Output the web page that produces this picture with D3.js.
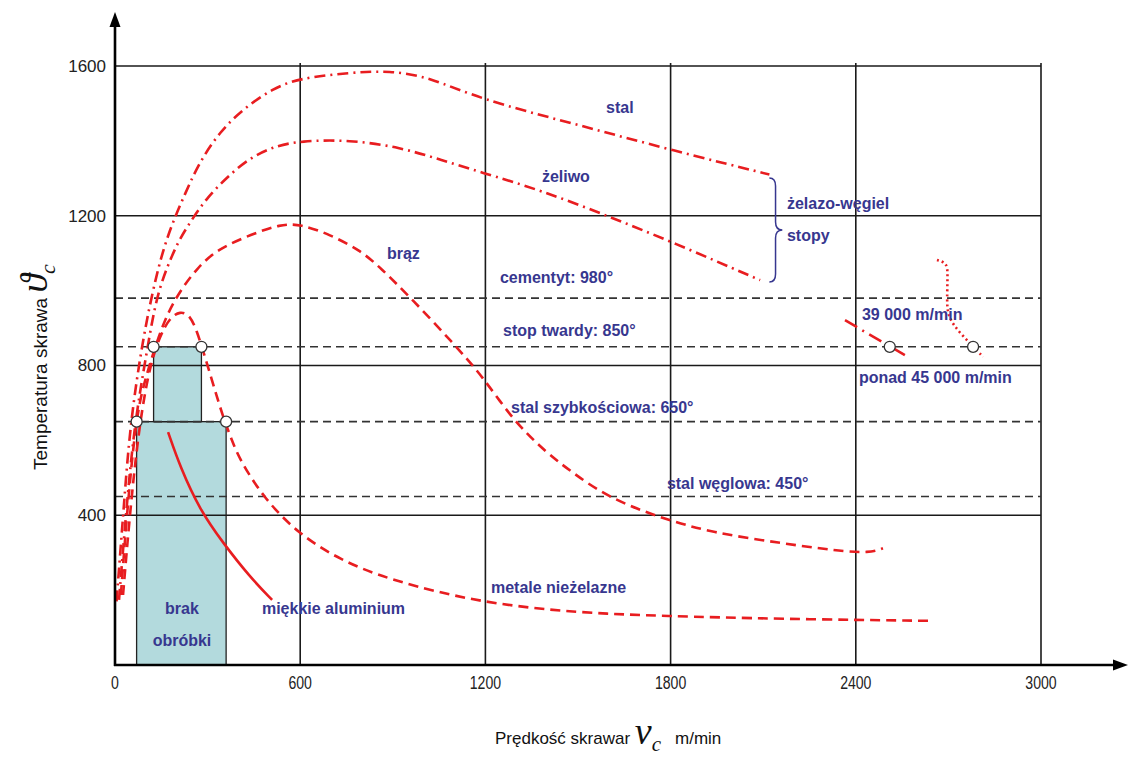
<!DOCTYPE html>
<html>
<head>
<meta charset="utf-8">
<script src="https://cdn.jsdelivr.net/npm/d3@7"></script>
<style>
  body { margin: 0; background: #fff; }
  svg { display: block; font-family: "Liberation Sans", Arial, sans-serif; }
</style>
</head>
<body>
<div id="chart"></div>
<script>
// values: [speed m/min, temperature]
const xTicks = [0, 600, 1200, 1800, 2400, 3000]
const yTicks = [400, 800, 1200, 1600]
const limitLevels = [980, 850, 650, 450]

const stal = [[5,170],[30,440],[50,650],[90,870],[130,1030],[170,1150],[230,1265],[275,1345],[340,1425],[415,1485],[510,1540],[600,1568],[760,1582],[890,1588],[1020,1570],[1180,1512],[1490,1445],[1800,1376],[2120,1310]]
const zeliwo = [[13,174],[39,441],[65,654],[104,841],[136,994],[185,1095],[211,1140],[253,1195],[300,1250],[360,1300],[428,1350],[512,1385],[600,1400],[760,1403],[923,1383],[1053,1350],[1182,1317],[1377,1269],[1604,1197],[1804,1130],[2090,1028]]
const braz = [[19,187],[42,441],[71,681],[104,780],[136,865],[168,935],[211,1000],[266,1060],[330,1110],[447,1152],[535,1177],[600,1178],[696,1150],[794,1108],[858,1063],[965,975],[1095,860],[1192,770],[1289,654],[1399,566],[1484,513],[1594,449],[1765,393],[1937,353],[2154,326],[2339,305],[2446,299],[2488,312]]
const metale = [[26,187],[52,441],[81,654],[113,800],[146,880],[178,928],[211,945],[243,935],[266,890],[285,841],[317,753],[350,662],[382,593],[405,548],[479,449],[590,353],[729,280],[891,227],[1182,166],[1506,139],[1775,131],[2154,123],[2640,118]]
const aluminium = [[172,622],[211,529],[275,414],[350,326],[437,235],[509,174]]
const high39 = [[2365,921],[2559,828]]
const high45 = [[2663,1082],[2695,1074],[2698,1047],[2695,975],[2698,929],[2737,887],[2779,852],[2812,823]]

const noWorkBlocks = [
    {x0: 70, x1: 360, y0: 0, y1: 650},
    {x0: 125, x1: 280, y0: 650, y1: 850},
]
const markers = [[70,650],[360,650],[125,850],[280,850],[2510,850],[2780,850]]

const labels = [
    {text: "stal", v: 1591, t: 1490},
    {text: "żeliwo", v: 1383, t: 1306},
    {text: "brąz", v: 881, t: 1100},
    {text: "cementyt: 980°", v: 1247, t: 1034},
    {text: "stop twardy: 850°", v: 1257, t: 895},
    {text: "stal szybkościowa: 650°", v: 1283, t: 689},
    {text: "stal węglowa: 450°", v: 1788, t: 486},
    {text: "metale nieżelazne", v: 1218, t: 208},
    {text: "miękkie aluminium", v: 476, t: 150},
    {text: "żelazo-węgiel", v: 2177, t: 1234},
    {text: "stopy", v: 2177, t: 1148},
    {text: "39 000 m/min", v: 2420, t: 937},
    {text: "ponad 45 000 m/min", v: 2410, t: 769},
]
const blockLabels = [
    {text: "brak", v: 217, t: 150},
    {text: "obróbki", v: 217, t: 67},
]

async function drawChart() {
  // Dimensions
    let dimensions = {
        width: 1129,
        height: 760,
        x0: 115,
        x1: 1041,
        y0: 665,
        y1: 66,
    }

    const svg = d3.select("#chart")
        .append("svg")
            .attr("width", dimensions.width)
            .attr("height", dimensions.height)

  // Scales
    const xScale = d3.scaleLinear()
        .domain([0, 3000])
        .range([dimensions.x0, dimensions.x1])
    const yScale = d3.scaleLinear()
        .domain([0, 1600])
        .range([dimensions.y0, dimensions.y1])

    const red = "#e81d20"
    const blue = "#37378f"

  // Blocks (no machining)
    svg.append("g").selectAll("rect")
        .data(noWorkBlocks)
        .join("rect")
            .attr("x", d => xScale(d.x0))
            .attr("y", d => yScale(d.y1))
            .attr("width", d => xScale(d.x1) - xScale(d.x0))
            .attr("height", d => yScale(d.y0) - yScale(d.y1))
            .attr("fill", "#b3dadd")
            .attr("stroke", "#222")
            .attr("stroke-width", 1.3)

  // Grid
    const grid = svg.append("g")
    grid.selectAll(".hgrid")
        .data(yTicks)
        .join("line")
            .attr("x1", xScale(0))
            .attr("x2", xScale(3000))
            .attr("y1", d => yScale(d))
            .attr("y2", d => yScale(d))
            .attr("stroke", "#1a1a1a")
            .attr("stroke-width", 1.6)
    grid.selectAll(".vgrid")
        .data(xTicks.slice(1))
        .join("line")
            .attr("x1", d => xScale(d))
            .attr("x2", d => xScale(d))
            .attr("y1", yScale(1600) - 3)
            .attr("y2", yScale(0))
            .attr("stroke", "#1a1a1a")
            .attr("stroke-width", 1.6)
    grid.selectAll(".limit")
        .data(limitLevels)
        .join("line")
            .attr("x1", xScale(0))
            .attr("x2", xScale(3000))
            .attr("y1", d => yScale(d))
            .attr("y2", d => yScale(d))
            .attr("stroke", "#333")
            .attr("stroke-width", 1.6)
            .attr("stroke-dasharray", "8,5")

  // Curves
    const lineGenerator = d3.line()
        .x(d => xScale(d[0]))
        .y(d => yScale(d[1]))
        .curve(d3.curveBasis)

    const curves = [
        {data: stal, dash: "11,5,2,5", width: 2.6},
        {data: zeliwo, dash: "11,5,2,5", width: 2.6},
        {data: braz, dash: "10,6", width: 2.6},
        {data: metale, dash: "10,6", width: 2.6},
        {data: aluminium, dash: null, width: 2.6},
        {data: high39, dash: "14,6,2,6", width: 2.6},
        {data: high45, dash: "2,3", width: 2.6},
    ]
    svg.append("g").selectAll("path")
        .data(curves)
        .join("path")
            .attr("d", d => lineGenerator(d.data))
            .attr("fill", "none")
            .attr("stroke", red)
            .attr("stroke-width", d => d.width)
            .attr("stroke-dasharray", d => d.dash)

  // Markers
    svg.append("g").selectAll("circle")
        .data(markers)
        .join("circle")
            .attr("cx", d => xScale(d[0]))
            .attr("cy", d => yScale(d[1]))
            .attr("r", 5.5)
            .attr("fill", "#fff")
            .attr("stroke", "#333")
            .attr("stroke-width", 1.3)

  // Axes with arrows
    const axes = svg.append("g")
    axes.append("line")
        .attr("x1", xScale(0)).attr("x2", xScale(0))
        .attr("y1", yScale(0) + 1).attr("y2", 22)
        .attr("stroke", "#000").attr("stroke-width", 2.6)
    axes.append("path")
        .attr("d", `M${xScale(0)},12 L${xScale(0) - 5.5},27 L${xScale(0) + 5.5},27 Z`)
        .attr("fill", "#000")
    axes.append("line")
        .attr("x1", xScale(0) - 1).attr("x2", 1116)
        .attr("y1", yScale(0)).attr("y2", yScale(0))
        .attr("stroke", "#000").attr("stroke-width", 2.6)
    axes.append("path")
        .attr("d", `M1128,${yScale(0)} L1113,${yScale(0) - 5.5} L1113,${yScale(0) + 5.5} Z`)
        .attr("fill", "#000")

  // Tick labels
    axes.selectAll(".ytick")
        .data(yTicks)
        .join("text")
            .attr("x", xScale(0) - 9)
            .attr("y", d => yScale(d))
            .attr("dy", "0.35em")
            .attr("text-anchor", "end")
            .attr("fill", "#222")
            .style("font-size", "17px")
            .text(d => d)
    axes.selectAll(".xtick")
        .data(xTicks)
        .join("text")
            .attr("x", d => xScale(d))
            .attr("y", yScale(0) + 18)
            .attr("text-anchor", "middle")
            .attr("fill", "#222")
            .style("font-size", "16px")
            .attr("transform", d => `translate(${xScale(d)},${yScale(0) + 18}) scale(0.88,1.1) translate(${-xScale(d)},${-(yScale(0) + 18)})`)
            .attr("dy", "0.35em")
            .text(d => d)

  // Axis titles
    const xTitle = svg.append("text")
        .attr("x", 495)
        .attr("y", 744)
        .attr("fill", "#111")
        .style("font-size", "17px")
    xTitle.append("tspan").text("Prędkość skrawar ")
    xTitle.append("tspan")
        .style("font-family", "'Liberation Serif', 'Times New Roman', serif")
        .style("font-style", "italic")
        .style("font-size", "38px")
        .text("v")
    xTitle.append("tspan")
        .attr("dy", 7)
        .style("font-family", "'Liberation Serif', 'Times New Roman', serif")
        .style("font-style", "italic")
        .style("font-size", "21px")
        .text("c")
    xTitle.append("tspan")
        .attr("dy", -7)
        .attr("dx", 14)
        .text("m/min")

    const yTitle = svg.append("text")
        .attr("transform", "translate(47,470) rotate(-90)")
        .attr("fill", "#111")
        .style("font-size", "19px")
    yTitle.append("tspan").text("Temperatura skrawa ")
    yTitle.append("tspan")
        .style("font-family", "'Liberation Serif', 'Times New Roman', serif")
        .style("font-style", "italic")
        .style("font-size", "38px")
        .text("ϑ")
    yTitle.append("tspan")
        .attr("dy", 8)
        .style("font-family", "'Liberation Serif', 'Times New Roman', serif")
        .style("font-style", "italic")
        .style("font-size", "22px")
        .text("c")

  // Brace for iron-carbon alloys
    const bx0 = xScale(2120), bx1 = xScale(2140), bx2 = xScale(2162)
    const byT = yScale(1301), byM = yScale(1162), byB = yScale(1023)
    svg.append("path")
        .attr("d", `M${bx0},${byT} Q${bx1},${byT} ${bx1},${byT + 8} L${bx1},${byM - 8} Q${bx1},${byM} ${bx2},${byM} Q${bx1},${byM} ${bx1},${byM + 8} L${bx1},${byB - 8} Q${bx1},${byB} ${bx0},${byB}`)
        .attr("fill", "none")
        .attr("stroke", blue)
        .attr("stroke-width", 1.5)

  // Annotations
    svg.append("g").selectAll("text")
        .data(labels)
        .join("text")
            .attr("x", d => xScale(d.v))
            .attr("y", d => yScale(d.t))
            .attr("dy", "0.35em")
            .attr("fill", blue)
            .attr("font-weight", 700)
            .style("font-size", "16px")
            .text(d => d.text)
    svg.append("g").selectAll("text")
        .data(blockLabels)
        .join("text")
            .attr("x", d => xScale(d.v))
            .attr("y", d => yScale(d.t))
            .attr("dy", "0.35em")
            .attr("text-anchor", "middle")
            .attr("fill", blue)
            .attr("font-weight", 700)
            .style("font-size", "16px")
            .text(d => d.text)
}

drawChart()
</script>
</body>
</html>
